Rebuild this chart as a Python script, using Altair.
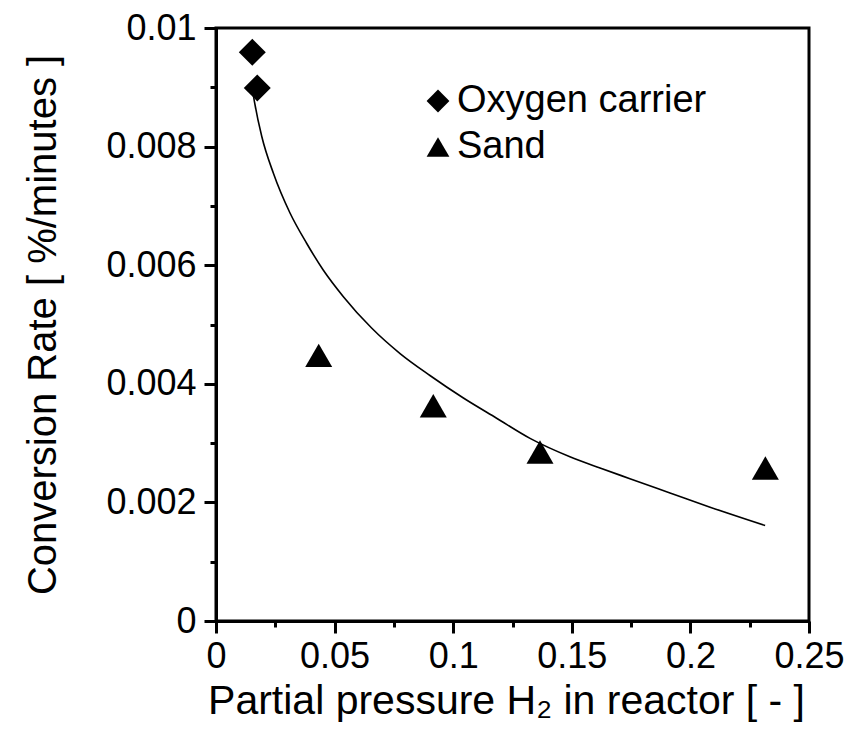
import altair as alt
import pandas as pd

# --- data ---
oc_x = [0.0153, 0.0174]
oc_y = [0.00959, 0.00899]
sand_x = [0.0433, 0.0916, 0.1366, 0.2316]
sand_y = [0.00448, 0.00363, 0.00285, 0.00258]

curve_x = [0.0154, 0.0162, 0.0193, 0.0242, 0.0312, 0.0382, 0.0452, 0.0537,
           0.0656, 0.0776, 0.0902, 0.1043, 0.1183, 0.1324, 0.1492, 0.1619,
           0.1745, 0.1914, 0.2083, 0.2315]
curve_y = [0.00895, 0.00876, 0.00817, 0.00755, 0.00688, 0.00637, 0.00592, 0.00547,
           0.00494, 0.00451, 0.00414, 0.00376, 0.00342, 0.00308, 0.00277, 0.00258,
           0.00240, 0.00216, 0.00192, 0.00161]

labels = ["Oxygen carrier", "Sand"]
shapes = ["diamond", "triangle-up"]

x_major = [0, 0.05, 0.1, 0.15, 0.2, 0.25]
x_minor = [0.025, 0.075, 0.125, 0.175, 0.225]
y_major = [0, 0.002, 0.004, 0.006, 0.008, 0.01]
y_minor = [0.001, 0.003, 0.005, 0.007, 0.009]

pts = pd.DataFrame({
    "x": oc_x + sand_x,
    "y": oc_y + sand_y,
    "material": [labels[0]] * len(oc_x) + [labels[1]] * len(sand_x),
})
curve = pd.DataFrame({"x": curve_x, "y": curve_y})

FONT = "Liberation Sans"
xscale = alt.Scale(domain=[0, 0.25], nice=False, zero=False)
yscale = alt.Scale(domain=[0, 0.01], nice=False, zero=False)

x_axis_major = alt.Axis(
    orient="bottom", values=x_major, format="~g", grid=False,
    tickSize=12, tickWidth=3, tickColor="black",
    domainWidth=3, domainColor="black",
    labelFont=FONT, labelFontSize=36, labelColor="black", labelPadding=6,
    labelFlush=False, labelOverlap=False,
    titleFont=FONT, titleFontSize=41, titleFontWeight="normal", titleColor="black",
    titlePadding=7, titleX=290,
)
y_axis_major = alt.Axis(
    orient="left", values=y_major, format="~g", grid=False,
    tickSize=12, tickWidth=3, tickColor="black",
    domainWidth=3, domainColor="black",
    labelFont=FONT, labelFontSize=36, labelColor="black", labelPadding=8,
    labelFlush=False, labelOverlap=False,
    titleFont=FONT, titleFontSize=40, titleFontWeight="normal", titleColor="black",
    titlePadding=42,
)
x_axis_minor = alt.Axis(
    orient="bottom", values=x_minor, labels=False, grid=False, domain=False,
    tickSize=6, tickWidth=3, tickColor="black",
)
y_axis_minor = alt.Axis(
    orient="left", values=y_minor, labels=False, grid=False, domain=False,
    tickSize=6, tickWidth=3, tickColor="black",
)

line = alt.Chart(curve).mark_line(color="black", strokeWidth=1.6, interpolate="monotone").encode(
    x=alt.X("x:Q", scale=xscale, axis=x_axis_major,
            title="Partial pressure H\u2082 in reactor [ - ]"),
    y=alt.Y("y:Q", scale=yscale, axis=y_axis_major,
            title="Conversion Rate [ %/minutes ]"),
)

points = alt.Chart(pts).mark_point(filled=True, size=729, color="black", opacity=1).encode(
    x=alt.X("x:Q", scale=xscale, axis=x_axis_minor, title=None),
    y=alt.Y("y:Q", scale=yscale, axis=y_axis_minor, title=None),
    shape=alt.Shape(
        "material:N",
        scale=alt.Scale(domain=labels, range=shapes),
        legend=alt.Legend(
            orient="none", legendX=203, legendY=54, title=None, padding=0,
            labelFont=FONT, labelFontSize=38, labelColor="black", labelOffset=0,
            labelLimit=500,
            symbolSize=520, symbolFillColor="black", symbolStrokeColor="black",
            symbolStrokeWidth=0, rowPadding=8,
        ),
    ),
)

chart = alt.layer(line, points).resolve_axis(x="independent", y="independent").properties(
    width=593, height=593,
    padding={"left": 208, "top": 20, "right": 46, "bottom": 107},
    autosize=alt.AutoSizeParams(type="none"),
    background="white",
).configure_view(stroke="black", strokeWidth=3)

chart.save("out.html", embed_options={"renderer": "svg", "actions": False})
